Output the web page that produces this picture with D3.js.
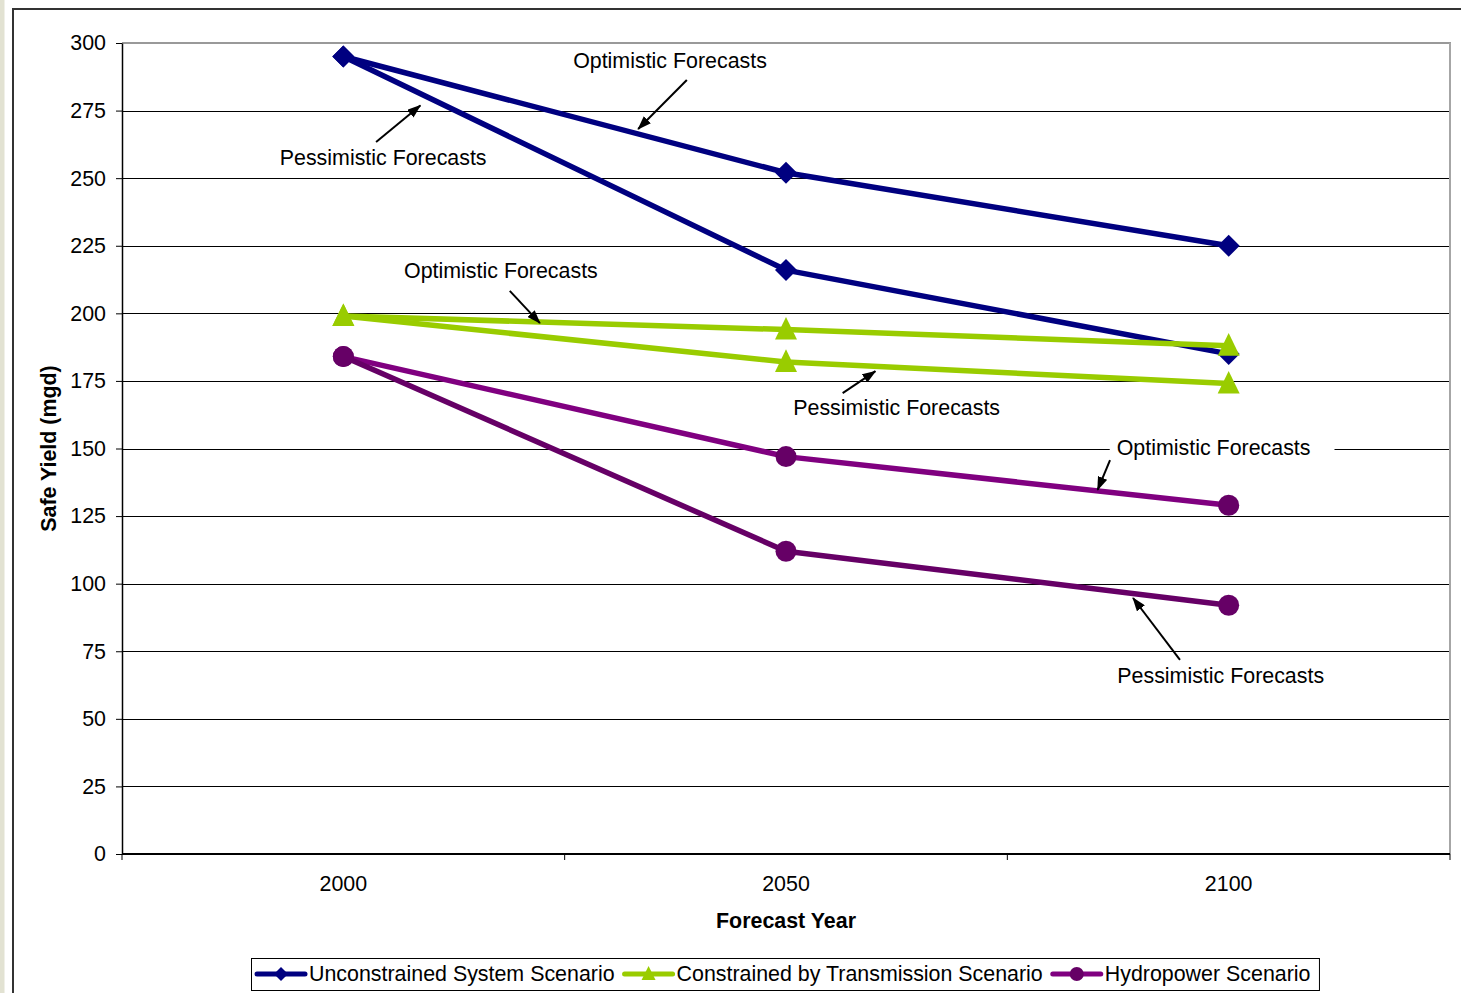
<!DOCTYPE html>
<html>
<head>
<meta charset="utf-8">
<script src="https://cdn.jsdelivr.net/npm/d3@7"></script>
<style>
  html, body { margin: 0; padding: 0; background: #fff; }
  svg { display: block; }
  text { font-family: "Liberation Sans", Arial, sans-serif; fill: #000; }
</style>
</head>
<body>
<svg id="chart" width="1461" height="993"></svg>
<script>
// Forecast years (categories)
const years = [2000, 2050, 2100];

// Safe yield (mgd) per scenario
const unconstrainedOptimistic  = [295, 252, 225];
const unconstrainedPessimistic = [295, 216, 185];
const constrainedOptimistic    = [199, 194, 188];
const constrainedPessimistic   = [199, 182, 174];
const hydroOptimistic          = [184, 147, 129];
const hydroPessimistic         = [184, 112, 92];

// Axis ticks
const yTicks = [0, 25, 50, 75, 100, 125, 150, 175, 200, 225, 250, 275, 300];

// Legend entries
const legendNames = ["Unconstrained System Scenario", "Constrained by Transmission Scenario", "Hydropower Scenario"];

// Callout labels, positioned in (year, mgd) units
const calloutLabels = ["Optimistic Forecasts", "Pessimistic Forecasts", "Optimistic Forecasts",
                       "Pessimistic Forecasts", "Optimistic Forecasts", "Pessimistic Forecasts"];
const calloutText   = [[2036.9, 293.7], [2004.5, 257.5], [2017.8, 215.7], [2062.5, 165.0], [2098.3, 150.2], [2099.1, 66.2]];
const calloutFrom   = [[2038.8, 286.3], [2003.7, 263.4], [2018.8, 208.3], [2056.4, 170.5], [2086.6, 145.7], [2094.5, 71.8]];
const calloutTo     = [[2033.3, 268.2], [2008.7, 276.9], [2022.2, 196.4], [2060.1, 178.6], [2085.2, 134.7], [2089.2, 94.7]];

const svg = d3.select("#chart");
const W = 1461, H = 993;
const plot = { left: 122, right: 1450, top: 43, bottom: 854 };
const FONT = 21.4;

// Page frame
svg.append("rect").attr("x", 0).attr("y", 0).attr("width", 4.5).attr("height", H).attr("fill", "#e2e2d2");
svg.append("line").attr("x1", 13).attr("x2", 13).attr("y1", 8).attr("y2", H).attr("stroke", "#333").attr("stroke-width", 2);
svg.append("line").attr("x1", 12).attr("x2", W).attr("y1", 9).attr("y2", 9).attr("stroke", "#333").attr("stroke-width", 2);

// Scales
const x = d3.scaleBand().domain(years).range([plot.left, plot.right]);
const xc = d => x(d) + x.bandwidth() / 2;
const xYear = d3.scaleLinear().domain([2000, 2100]).range([xc(2000), xc(2100)]);
const y = d3.scaleLinear().domain([0, 300]).range([plot.bottom, plot.top]);

// Gridlines
svg.append("g").selectAll("line").data(yTicks.filter(t => t > 0 && t < 300)).join("line")
  .attr("x1", plot.left).attr("x2", plot.right)
  .attr("y1", d => Math.round(y(d)) + 0.5).attr("y2", d => Math.round(y(d)) + 0.5)
  .attr("stroke", "#000").attr("stroke-width", 1);

// Plot border (top and right)
svg.append("line").attr("x1", plot.left).attr("x2", plot.right + 1).attr("y1", plot.top).attr("y2", plot.top)
  .attr("stroke", "#999").attr("stroke-width", 2);
svg.append("line").attr("x1", plot.right).attr("x2", plot.right).attr("y1", plot.top).attr("y2", plot.bottom)
  .attr("stroke", "#a6a6a6").attr("stroke-width", 2);

// Y axis
const yAxis = svg.append("g").attr("transform", `translate(${plot.left},0)`)
  .call(d3.axisLeft(y).tickValues(yTicks).tickSize(6).tickPadding(10).tickSizeOuter(0));
yAxis.select(".domain").attr("stroke", "#000").attr("stroke-width", 1.5);
yAxis.selectAll(".tick line").attr("stroke", "#000");
yAxis.selectAll(".tick text").attr("font-size", FONT).attr("font-family", "Liberation Sans, Arial, sans-serif").attr("fill", "#000");

// X axis: ticks at category boundaries, labels at centres
const xAxisG = svg.append("g").attr("transform", `translate(0,${plot.bottom})`);
xAxisG.append("line").attr("x1", plot.left).attr("x2", plot.right).attr("y1", 0).attr("y2", 0)
  .attr("stroke", "#000").attr("stroke-width", 2);
const boundaries = years.map(d => x(d)).concat([x(years[years.length - 1]) + x.bandwidth()]);
xAxisG.selectAll("line.tk").data(boundaries).join("line").attr("class", "tk")
  .attr("x1", d => d).attr("x2", d => d).attr("y1", 0).attr("y2", 6).attr("stroke", "#000").attr("stroke-width", 1);
xAxisG.selectAll("text").data(years).join("text")
  .attr("x", d => xc(d)).attr("y", 30).attr("dy", "0.35em").attr("text-anchor", "middle")
  .attr("font-size", FONT).text(d => d);

// Axis titles
svg.append("text").attr("x", xc(2050)).attr("y", 921).attr("dy", "0.35em").attr("text-anchor", "middle")
  .attr("font-size", FONT).attr("font-weight", "bold").text("Forecast Year");
svg.append("text").attr("transform", `translate(48,${(plot.top + plot.bottom) / 2}) rotate(-90)`)
  .attr("dy", "0.35em").attr("text-anchor", "middle")
  .attr("font-size", FONT).attr("font-weight", "bold").text("Safe Yield (mgd)");

// Point markers
function drawMarker(g, shape, cx, cy, color, r) {
  if (shape === "diamond") {
    g.append("path").attr("d", `M${cx},${cy - r}L${cx + r},${cy}L${cx},${cy + r}L${cx - r},${cy}Z`).attr("fill", color);
  } else if (shape === "triangle") {
    g.append("path").attr("d", `M${cx},${cy - r * 1.15}L${cx + r},${cy + r * 0.9}L${cx - r},${cy + r * 0.9}Z`).attr("fill", color);
  } else {
    g.append("circle").attr("cx", cx).attr("cy", cy).attr("r", r).attr("fill", color);
  }
}

const series = [
  { values: unconstrainedOptimistic,  line: "#000080", mark: "#000080", shape: "diamond" },
  { values: unconstrainedPessimistic, line: "#000080", mark: "#000080", shape: "diamond" },
  { values: constrainedOptimistic,    line: "#99cc00", mark: "#99cc00", shape: "triangle" },
  { values: constrainedPessimistic,   line: "#99cc00", mark: "#99cc00", shape: "triangle" },
  { values: hydroOptimistic,          line: "#800080", mark: "#660066", shape: "circle" },
  { values: hydroPessimistic,         line: "#660066", mark: "#660066", shape: "circle" }
];

const lineGen = d3.line().x((d, i) => xc(years[i])).y(d => y(d));
series.forEach(s => {
  const g = svg.append("g");
  g.append("path").datum(s.values).attr("d", lineGen)
    .attr("fill", "none").attr("stroke", s.line).attr("stroke-width", 5.5).attr("stroke-linejoin", "round");
  s.values.forEach((v, i) => drawMarker(g, s.shape, xc(years[i]), y(v), s.mark, s.shape === "circle" ? 10.5 : 11));
});

// Arrowhead
svg.append("defs").append("marker")
  .attr("id", "arrowhead").attr("viewBox", "0 0 14 10").attr("refX", 13).attr("refY", 5)
  .attr("markerWidth", 14).attr("markerHeight", 10).attr("markerUnits", "userSpaceOnUse")
  .attr("orient", "auto")
  .append("path").attr("d", "M0,0L14,5L0,10Z").attr("fill", "#000");

// Callouts
calloutLabels.forEach((label, i) => {
  const g = svg.append("g");
  const bg = g.append("rect").attr("fill", "#fff");
  const t = g.append("text")
    .attr("x", xYear(calloutText[i][0])).attr("y", y(calloutText[i][1])).attr("dy", "0.35em")
    .attr("text-anchor", "middle").attr("font-size", FONT).text(label);
  const bb = t.node().getBBox();
  bg.attr("x", bb.x - 7).attr("y", bb.y).attr("width", bb.width + 31).attr("height", bb.height);
  g.append("line")
    .attr("x1", xYear(calloutFrom[i][0])).attr("y1", y(calloutFrom[i][1]))
    .attr("x2", xYear(calloutTo[i][0])).attr("y2", y(calloutTo[i][1]))
    .attr("stroke", "#000").attr("stroke-width", 2).attr("marker-end", "url(#arrowhead)");
});

// Legend
const legend = svg.append("g");
const legendBox = legend.append("rect").attr("fill", "#fff").attr("stroke", "#000").attr("stroke-width", 1);
const legendY = 974;
let lx = 257;
const shapes = ["diamond", "triangle", "circle"];
const legendLine = ["#000080", "#99cc00", "#800080"];
const legendMark = ["#000080", "#99cc00", "#660066"];
legendNames.forEach((name, i) => {
  legend.append("line").attr("x1", lx).attr("x2", lx + 48).attr("y1", legendY).attr("y2", legendY)
    .attr("stroke", legendLine[i]).attr("stroke-width", 5).attr("stroke-linecap", "round");
  const mg = legend.append("g");
  const cx = lx + 24;
  if (shapes[i] === "diamond") {
    mg.append("path").attr("d", `M${cx},${legendY - 7}L${cx + 7},${legendY}L${cx},${legendY + 7}L${cx - 7},${legendY}Z`).attr("fill", legendMark[i]);
  } else if (shapes[i] === "triangle") {
    mg.append("path").attr("d", `M${cx},${legendY - 8}L${cx + 7},${legendY + 6}L${cx - 7},${legendY + 6}Z`).attr("fill", legendMark[i]);
  } else {
    mg.append("circle").attr("cx", cx).attr("cy", legendY).attr("r", 7).attr("fill", legendMark[i]);
  }
  const t = legend.append("text").attr("x", lx + 52).attr("y", legendY).attr("dy", "0.35em")
    .attr("font-size", FONT).text(name);
  lx = lx + 52 + t.node().getComputedTextLength() + 10;
});
legendBox.attr("x", 251.5).attr("y", 958.5).attr("width", lx - 251.5 - 1).attr("height", 32);
</script>
</body>
</html>
